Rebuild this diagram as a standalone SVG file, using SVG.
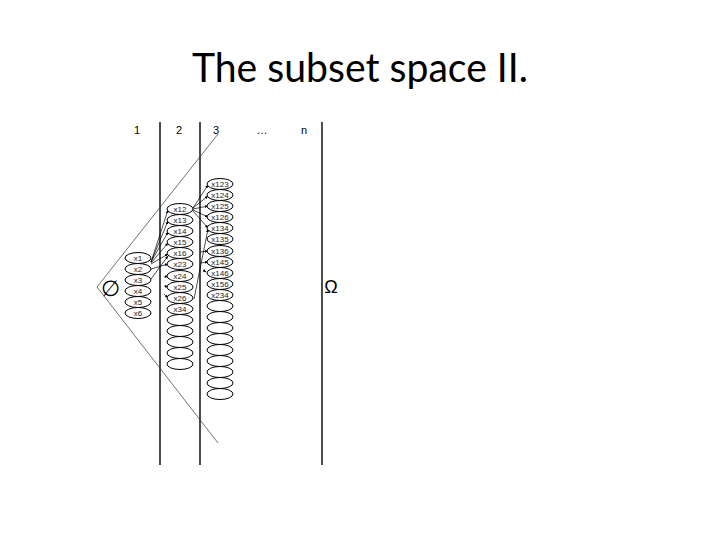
<svg xmlns="http://www.w3.org/2000/svg" width="720" height="540" viewBox="0 0 720 540">
<defs>
<style>
.t{font-family:"Liberation Sans",Arial,sans-serif;fill:#000}
.e{fill:#fff;stroke:#000;stroke-width:1}
.el{font-family:"Liberation Sans",Arial,sans-serif;font-size:8px;fill:#222;text-anchor:middle}
.ln{stroke:#000;stroke-width:1.4;fill:none}
.c{stroke:#333;stroke-width:0.7;fill:none}
.a{stroke:#000;stroke-width:0.7;fill:none;marker-end:url(#ah)}
</style>
<marker id="ah" viewBox="0 0 10 10" refX="9" refY="5" markerWidth="5" markerHeight="5" orient="auto">
<path d="M0,1 L10,5 L0,9 z" fill="#000"/>
</marker>
</defs>
<rect width="720" height="540" fill="#fff"/>
<text x="360" y="82" font-family="Lato,'Open Sans',sans-serif" font-size="40" text-anchor="middle" textLength="336" lengthAdjust="spacingAndGlyphs" fill="#000">The subset space II.</text>
<g id="frame">
<line class="ln" x1="160" y1="122" x2="160" y2="465"/>
<line class="ln" x1="200" y1="122" x2="200" y2="465"/>
<line class="ln" x1="322" y1="122" x2="322" y2="465"/>
<text class="t" x="137" y="134" font-size="11" text-anchor="middle">1</text>
<text class="t" x="179" y="134" font-size="11" text-anchor="middle">2</text>
<text class="t" x="216" y="134" font-size="11" text-anchor="middle">3</text>
<text class="t" x="262" y="134" font-size="11" text-anchor="middle">…</text>
<text class="t" x="304" y="134" font-size="11" text-anchor="middle">n</text>
</g>
<g id="empty"><text class="t" x="110" y="296" font-size="22" text-anchor="middle">∅</text></g>
<g id="omega"><text class="t" x="331" y="293" font-size="18" text-anchor="middle">Ω</text></g>
<g id="connectors">
<line class="c" x1="97" y1="287" x2="218" y2="134"/>
<line class="c" x1="97" y1="287" x2="218" y2="443"/>
<line class="a" x1="151" y1="262" x2="168" y2="210"/>
<line class="a" x1="151" y1="262" x2="168" y2="221"/>
<line class="a" x1="151" y1="262" x2="168" y2="232"/>
<line class="a" x1="151" y1="263" x2="168" y2="243"/>
<line class="a" x1="151" y1="264" x2="168" y2="254"/>
<line class="a" x1="151" y1="269" x2="168" y2="264"/>
<line class="a" x1="151" y1="279" x2="168" y2="256"/>
<line class="a" x1="164" y1="277" x2="168" y2="276"/>
<line class="a" x1="164" y1="286" x2="168" y2="287"/>
<line class="a" x1="164" y1="294" x2="168" y2="298"/>
<line class="a" x1="193" y1="208" x2="208" y2="185"/>
<line class="a" x1="193" y1="208" x2="208" y2="196"/>
<line class="a" x1="193" y1="209" x2="208" y2="206"/>
<line class="a" x1="193" y1="210" x2="208" y2="217"/>
<line class="a" x1="193" y1="211" x2="208" y2="228"/>
<line class="a" x1="194" y1="299" x2="208" y2="229"/>
<line class="a" x1="200" y1="252" x2="208" y2="251"/>
<line class="a" x1="200" y1="263" x2="208" y2="262"/>
<line class="a" x1="203" y1="270" x2="206" y2="272"/>
</g>
<g id="col1">
<ellipse class="e" cx="138" cy="258" rx="13" ry="5.5"/><text class="el" x="138" y="261">x1</text>
<ellipse class="e" cx="138" cy="269" rx="13" ry="5.5"/><text class="el" x="138" y="272">x2</text>
<ellipse class="e" cx="138" cy="280" rx="13" ry="5.5"/><text class="el" x="138" y="283">x3</text>
<ellipse class="e" cx="138" cy="291" rx="13" ry="5.5"/><text class="el" x="138" y="294">x4</text>
<ellipse class="e" cx="138" cy="302" rx="13" ry="5.5"/><text class="el" x="138" y="305">x5</text>
<ellipse class="e" cx="138" cy="313" rx="13" ry="5.5"/><text class="el" x="138" y="316">x6</text>
</g>
<g id="col2">
<ellipse class="e" cx="180" cy="209" rx="13" ry="5.5"/><text class="el" x="180" y="212">x12</text>
<ellipse class="e" cx="180" cy="220" rx="13" ry="5.5"/><text class="el" x="180" y="223">x13</text>
<ellipse class="e" cx="180" cy="231" rx="13" ry="5.5"/><text class="el" x="180" y="234">x14</text>
<ellipse class="e" cx="180" cy="242" rx="13" ry="5.5"/><text class="el" x="180" y="245">x15</text>
<ellipse class="e" cx="180" cy="253" rx="13" ry="5.5"/><text class="el" x="180" y="256">x16</text>
<ellipse class="e" cx="180" cy="264" rx="13" ry="5.5"/><text class="el" x="180" y="267">x23</text>
<ellipse class="e" cx="180" cy="276" rx="13" ry="5.5"/><text class="el" x="180" y="279">x24</text>
<ellipse class="e" cx="180" cy="287" rx="13" ry="5.5"/><text class="el" x="180" y="290">x25</text>
<ellipse class="e" cx="180" cy="298" rx="13" ry="5.5"/><text class="el" x="180" y="301">x26</text>
<ellipse class="e" cx="180" cy="309" rx="13" ry="5.5"/><text class="el" x="180" y="312">x34</text>
<ellipse class="e" cx="180" cy="320" rx="13" ry="5.5"/>
<ellipse class="e" cx="180" cy="331" rx="13" ry="5.5"/>
<ellipse class="e" cx="180" cy="342" rx="13" ry="5.5"/>
<ellipse class="e" cx="180" cy="353" rx="13" ry="5.5"/>
<ellipse class="e" cx="180" cy="364" rx="13" ry="5.5"/>
</g>
<g id="col3">
<ellipse class="e" cx="220" cy="184" rx="13" ry="5.5"/><text class="el" x="220" y="187">x123</text>
<ellipse class="e" cx="220" cy="195" rx="13" ry="5.5"/><text class="el" x="220" y="198">x124</text>
<ellipse class="e" cx="220" cy="206" rx="13" ry="5.5"/><text class="el" x="220" y="209">x125</text>
<ellipse class="e" cx="220" cy="217" rx="13" ry="5.5"/><text class="el" x="220" y="220">x126</text>
<ellipse class="e" cx="220" cy="228" rx="13" ry="5.5"/><text class="el" x="220" y="231">x134</text>
<ellipse class="e" cx="220" cy="239" rx="13" ry="5.5"/><text class="el" x="220" y="242">x135</text>
<ellipse class="e" cx="220" cy="251" rx="13" ry="5.5"/><text class="el" x="220" y="254">x136</text>
<ellipse class="e" cx="220" cy="262" rx="13" ry="5.5"/><text class="el" x="220" y="265">x145</text>
<ellipse class="e" cx="220" cy="273" rx="13" ry="5.5"/><text class="el" x="220" y="276">x146</text>
<ellipse class="e" cx="220" cy="284" rx="13" ry="5.5"/><text class="el" x="220" y="287">x156</text>
<ellipse class="e" cx="220" cy="295" rx="13" ry="5.5"/><text class="el" x="220" y="298">x234</text>
<ellipse class="e" cx="220" cy="306" rx="13" ry="5.5"/>
<ellipse class="e" cx="220" cy="317" rx="13" ry="5.5"/>
<ellipse class="e" cx="220" cy="328" rx="13" ry="5.5"/>
<ellipse class="e" cx="220" cy="339" rx="13" ry="5.5"/>
<ellipse class="e" cx="220" cy="350" rx="13" ry="5.5"/>
<ellipse class="e" cx="220" cy="361" rx="13" ry="5.5"/>
<ellipse class="e" cx="220" cy="372" rx="13" ry="5.5"/>
<ellipse class="e" cx="220" cy="383" rx="13" ry="5.5"/>
<ellipse class="e" cx="220" cy="394" rx="13" ry="5.5"/>
</g>
</svg>
